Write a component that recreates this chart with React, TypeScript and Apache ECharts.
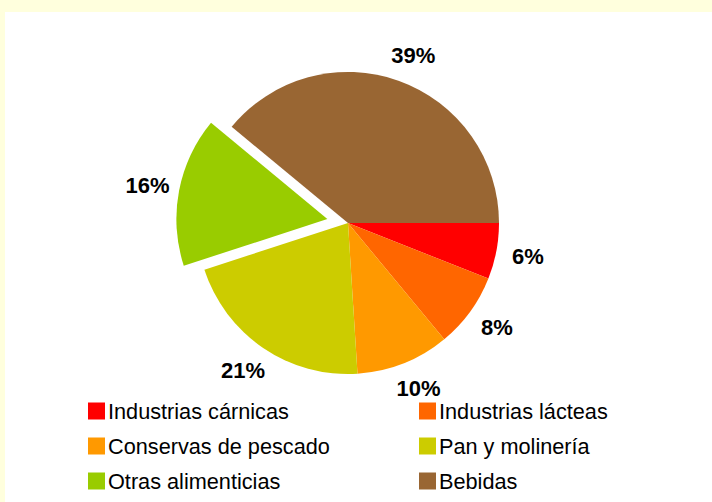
import React, { useEffect, useRef } from "react";
import * as echarts from "echarts";

const categories = [
  "Industrias cárnicas",
  "Industrias lácteas",
  "Conservas de pescado",
  "Pan y molinería",
  "Otras alimenticias",
  "Bebidas",
];
const values = [6, 8, 10, 21, 16, 39];
const colors = ["#FF0000", "#FF6600", "#FF9900", "#CCCC00", "#99CC00", "#996633"];
const explodedCategory = "Otras alimenticias";
const legendCol1 = ["Industrias cárnicas", "Conservas de pescado", "Otras alimenticias"];
const legendCol2 = ["Industrias lácteas", "Pan y molinería", "Bebidas"];

const FONT = '"Liberation Sans", Arial, sans-serif';

export default function App() {
  const ref = useRef<HTMLDivElement>(null);
  useEffect(() => {
    if (!ref.current) return;
    const chart = echarts.init(ref.current, undefined, { renderer: "svg" });
    const legendBase = {
      orient: "vertical",
      padding: 0,
      itemWidth: 17,
      itemHeight: 17,
      itemGap: 13,
      icon: "rect",
      selectedMode: false,
      textStyle: { fontSize: 21.7, color: "#000", fontFamily: FONT, padding: [0, 0, 0, -2] },
    };
    chart.setOption({
      animation: false,
      backgroundColor: "#FFFFDD",
      graphic: [
        {
          type: "rect",
          shape: { x: 5, y: 12, width: 707, height: 490 },
          style: { fill: "#FFFFFF" },
          silent: true,
          z: 0,
        },
      ],
      legend: [
        { ...legendBase, left: 88, top: 400, data: legendCol1 },
        { ...legendBase, left: 419, top: 400, data: legendCol2 },
      ],
      series: [
        {
          type: "pie",
          center: [348, 223],
          radius: 151,
          startAngle: 0,
          clockwise: true,
          selectedMode: "multiple",
          selectedOffset: 21,
          avoidLabelOverlap: false,
          emphasis: { disabled: true, scale: false },
          label: {
            show: true,
            position: "outside",
            formatter: (p: any) => `${p.value}%`,
            fontSize: 22,
            fontWeight: "bold",
            color: "#000",
            fontFamily: FONT,
          },
          labelLine: { show: false, length: 27, length2: 0 },
          labelLayout: () => ({ align: "center", verticalAlign: "middle" }),
          data: categories.map((name, i) => ({
            name,
            value: values[i],
            selected: name === explodedCategory,
            itemStyle: { color: colors[i] },
          })),
        },
      ],
    });
    return () => chart.dispose();
  }, []);
  return (
    <div
      ref={ref}
      style={{ position: "fixed", left: 0, top: 0, width: 712, height: 502 }}
    />
  );
}
